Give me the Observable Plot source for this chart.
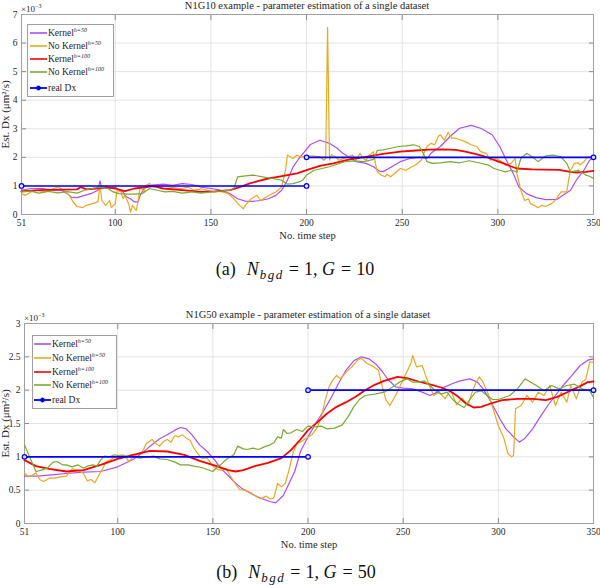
<!DOCTYPE html>
<html>
<head>
<meta charset="utf-8">
<script src="https://cdn.jsdelivr.net/npm/d3@7"></script>
<script src="https://cdn.jsdelivr.net/npm/@observablehq/plot@0.6"></script>
<style>
  html, body { margin: 0; padding: 0; background: #fff; }
  #wrap { position: relative; width: 600px; height: 585px; background: #fff; font-family: 'Liberation Serif', 'Times New Roman', serif; color: #262626; overflow: hidden; }
  .title { font-size: 10.5px; white-space: nowrap; transform: translateX(-50%); line-height: 12px; }
  .exp { font-size: 9px; line-height: 10px; }
  .exp sup { font-size: 6px; }
  .legend { border: 1px solid #a0a0a0; background: #fff; box-sizing: border-box; }
  .row { position: absolute; left: 0; height: 12px; font-size: 9.5px; line-height: 12px; white-space: nowrap; }
  .row svg { position: absolute; top: 0; }
  .row span { position: absolute; top: 0; }
  .row sup { font-size: 6px; font-style: italic; vertical-align: 4px; line-height: 0; }
  .caption { white-space: nowrap; transform: translateX(-50%); font-size: 18px; line-height: 22px; color: #111; }
  .caption i { margin-right: 1px; }
  .caption sub { font-size: 13px; font-style: italic; vertical-align: -4px; line-height: 0; letter-spacing: 1.5px; }
  .caption .eq { margin: 0 5px; }
  .caption .lab { margin-right: 11px; }
</style>
</head>
<body>
<div id="wrap"></div>
<script>
// ---------- data (values in units of 1e-3 µm²/s) ----------
const xTicks = [51, 100, 150, 200, 250, 300, 350];
const yTicksTop = [0, 1, 2, 3, 4, 5, 6, 7];
const yTicksBottom = [0, 0.5, 1, 1.5, 2, 2.5, 3];

const seriesNames = ["Kernel h=50", "No Kernel h=50", "Kernel h=100", "No Kernel h=100", "real Dx"];
const seriesColors = ["#b04cf5", "#eca81e", "#ff0000", "#77ac30", "#0000ff"];

// Panel (a): N1G10
const topKernel50 = [[51,0.85],[56,0.91],[62,0.91],[68,0.85],[72,0.84],[75,0.73],[77,0.61],[80,0.59],[84,0.67],[88,0.75],[91,0.85],[92,1.18],[93,0.91],[96,0.91],[100,0.96],[102,0.85],[104,0.79],[106,0.61],[108,0.55],[110,0.44],[112,0.44],[113,0.67],[115,0.91],[118,1.02],[125,1.06],[130,1.02],[135,1.08],[140,1.05],[145,0.96],[150,0.91],[155,0.85],[160,0.73],[164,0.55],[168,0.47],[172,0.46],[176,0.49],[180,0.55],[184,0.67],[187,0.85],[190,1.2],[193,1.67],[196,1.96],[199,2.2],[202,2.45],[207,2.6],[212,2.49],[216,2.32],[219,2.14],[222,2.02],[226,1.85],[231,1.79],[235,1.67],[238,1.52],[240,1.5],[243,1.61],[249,1.85],[254,1.96],[259,2.0],[263,1.96],[265,2.14],[270,2.38],[275,2.73],[280,3.02],[286,3.12],[291,3.02],[297,2.79],[301,2.38],[304,1.96],[308,1.44],[311,0.96],[315,0.73],[320,0.59],[325,0.52],[331,0.53],[334,0.67],[338,0.85],[341,1.2],[345,1.55],[348,1.9],[350,2.02]];
const topNoKernel50 = [[51,0.73],[53,0.67],[56,0.79],[59,0.85],[63,0.79],[66,0.85],[70,0.97],[73,0.85],[76,0.67],[78,0.44],[80,0.28],[83,0.24],[85,0.32],[88,0.38],[91,0.44],[92,1.05],[93,0.49],[95,0.32],[97,0.49],[98,0.24],[100,0.38],[101,0.85],[103,0.79],[104,0.55],[105,0.67],[107,0.38],[108,0.08],[109,0.32],[111,0.14],[112,0.49],[113,0.96],[115,0.79],[116,1.02],[118,1.08],[120,0.96],[123,1.02],[126,1.0],[128,0.96],[131,0.94],[134,0.9],[138,0.96],[141,0.85],[145,0.9],[148,0.85],[152,0.79],[155,0.81],[159,0.73],[162,0.55],[165,0.32],[167,0.2],[168,0.32],[171,0.55],[174,0.67],[176,0.49],[179,0.61],[182,0.73],[184,0.79],[187,0.96],[189,1.55],[190,2.08],[193,1.96],[195,2.08],[197,2.0],[200,2.05],[203,2.05],[207,2.02],[209,1.9],[210,1.95],[211,6.55],[212,1.9],[213,2.1],[215,2.02],[217,1.9],[221,2.0],[224,2.08],[226,1.93],[228,2.14],[229,2.02],[231,1.9],[233,2.08],[235,2.2],[236,1.79],[237,1.49],[239,1.38],[241,1.32],[242,1.41],[244,1.32],[247,1.49],[249,1.61],[252,1.55],[255,1.67],[257,1.73],[260,1.9],[262,2.26],[263,2.38],[265,2.49],[267,2.44],[269,2.75],[270,2.79],[272,2.6],[274,2.87],[276,2.67],[278,2.67],[281,2.6],[283,2.55],[286,2.44],[289,2.38],[291,2.2],[294,2.14],[296,1.9],[299,1.96],[302,1.85],[304,1.73],[307,1.79],[309,1.96],[310,1.44],[312,0.85],[314,0.49],[316,0.55],[317,0.38],[319,0.32],[321,0.24],[323,0.32],[325,0.28],[328,0.38],[330,0.49],[333,0.79],[336,0.79],[337,1.2],[338,1.55],[340,1.79],[342,1.81],[343,1.73],[345,1.85],[347,2.02],[350,1.96]];
const topKernel100 = [[51,0.81],[60,0.85],[70,0.87],[80,0.88],[82,0.96],[85,0.88],[90,0.91],[95,0.96],[100,0.91],[105,0.82],[110,0.91],[116,0.96],[120,0.99],[125,0.91],[135,0.85],[145,0.79],[152,0.81],[160,0.85],[165,0.96],[170,1.08],[175,1.18],[180,1.26],[185,1.32],[190,1.38],[195,1.44],[200,1.55],[207,1.7],[214,1.79],[222,1.92],[231,2.02],[240,2.12],[249,2.2],[257,2.24],[264,2.27],[271,2.28],[278,2.26],[283,2.2],[287,2.14],[292,2.05],[296,1.96],[300,1.86],[303,1.79],[307,1.68],[310,1.61],[318,1.58],[325,1.57],[332,1.56],[338,1.49],[341,1.47],[346,1.49],[350,1.53]];
const topNoKernel100 = [[51,0.79],[56,0.82],[60,0.75],[65,0.81],[70,0.76],[75,0.8],[80,0.75],[84,0.85],[88,0.91],[92,0.96],[96,0.91],[99,0.79],[102,0.73],[106,0.71],[110,0.71],[114,0.73],[118,0.91],[122,0.85],[126,0.79],[130,0.81],[135,0.75],[140,0.79],[145,0.75],[150,0.79],[155,0.82],[160,0.85],[162,0.91],[164,1.32],[167,1.34],[172,1.38],[177,1.32],[182,1.26],[187,1.2],[190,1.06],[193,1.08],[196,1.14],[198,1.2],[200,1.38],[204,1.55],[208,1.61],[212,1.67],[216,1.76],[220,1.85],[225,1.88],[230,1.85],[235,1.93],[237,2.24],[240,2.26],[244,2.32],[248,2.38],[252,2.4],[256,2.44],[259,2.38],[261,2.14],[263,1.85],[266,1.79],[270,1.81],[275,1.85],[280,1.81],[285,1.88],[290,1.81],[295,1.73],[298,1.61],[301,1.55],[304,1.49],[307,1.55],[310,1.49],[312,1.96],[315,2.14],[318,2.02],[321,1.85],[325,2.05],[329,2.08],[333,2.02],[336,1.79],[338,1.49],[342,1.55],[346,1.38],[348,1.34],[350,1.26]];
const topRealDx1 = [[51,1],[200,1]];
const topRealDx2 = [[200,2],[350,2]];

// Panel (b): N1G50
const botKernel50 = [[51,0.71],[58,0.71],[65,0.73],[73,0.75],[82,0.77],[91,0.78],[100,0.85],[108,0.96],[113,1.06],[117,1.16],[122,1.27],[126,1.33],[130,1.4],[133,1.44],[136,1.42],[139,1.33],[143,1.18],[147,1.08],[151,0.95],[154,0.83],[158,0.72],[161,0.63],[165,0.53],[170,0.45],[175,0.38],[180,0.33],[183,0.31],[187,0.42],[190,0.6],[193,0.78],[196,1.08],[200,1.3],[204,1.5],[208,1.68],[212,1.88],[216,2.1],[220,2.3],[224,2.44],[228,2.5],[232,2.47],[236,2.38],[239,2.28],[242,2.16],[246,2.05],[250,2.03],[255,2.02],[260,1.97],[264,1.92],[268,1.97],[272,2.05],[276,2.1],[280,2.14],[285,2.17],[289,2.12],[292,2.02],[295,1.88],[298,1.72],[301,1.56],[304,1.42],[308,1.3],[311,1.22],[314,1.28],[318,1.42],[322,1.6],[326,1.77],[330,1.92],[334,2.07],[338,2.2],[343,2.37],[347,2.45],[350,2.47]];
const botNoKernel50 = [[51,0.76],[53,0.7],[55,0.72],[57,0.76],[59,0.66],[61,0.63],[64,0.68],[67,0.68],[70,0.7],[73,0.71],[76,0.82],[79,0.8],[82,0.75],[84,0.64],[86,0.66],[88,0.61],[90,0.72],[92,0.82],[94,0.93],[97,0.97],[100,1.02],[103,1.03],[106,0.93],[108,1.0],[110,1.03],[113,1.08],[115,1.2],[118,1.26],[120,1.2],[122,1.16],[124,1.23],[126,1.26],[128,1.22],[130,1.32],[132,1.3],[134,1.33],[136,1.28],[138,1.25],[140,1.13],[142,1.05],[144,0.98],[147,0.98],[150,0.86],[152,0.82],[154,0.8],[157,0.82],[159,0.72],[161,0.63],[164,0.51],[167,0.5],[170,0.46],[173,0.4],[175,0.37],[178,0.41],[180,0.37],[182,0.38],[184,0.6],[186,0.55],[188,0.6],[190,0.8],[192,1.05],[194,1.2],[196,1.22],[199,1.28],[202,1.33],[205,1.45],[207,1.6],[209,1.85],[211,2.05],[213,2.15],[215,2.22],[217,2.17],[220,2.27],[223,2.35],[226,2.45],[228,2.48],[231,2.4],[234,2.36],[237,2.3],[239,2.05],[241,1.85],[243,1.77],[246,1.92],[249,2.1],[252,2.28],[254,2.4],[255,2.52],[257,2.35],[260,2.37],[262,2.2],[264,2.05],[266,1.92],[269,1.97],[272,1.87],[275,2.0],[278,1.78],[281,1.88],[284,1.77],[286,1.95],[288,2.1],[290,2.2],[292,2.12],[295,1.92],[298,1.65],[300,1.47],[303,1.27],[305,1.05],[307,1.0],[308,1.02],[309,1.72],[312,1.77],[315,1.92],[318,1.82],[321,1.97],[324,1.92],[327,2.07],[330,1.77],[333,1.97],[336,1.82],[338,2.07],[341,1.87],[344,2.12],[346,2.17],[348,2.42],[350,2.42]];
const botKernel100 = [[51,0.95],[57,0.86],[64,0.82],[73,0.78],[82,0.8],[91,0.88],[100,0.97],[108,1.03],[117,1.09],[126,1.08],[135,1.03],[143,0.94],[152,0.86],[158,0.8],[162,0.78],[166,0.8],[172,0.86],[179,0.91],[186,0.98],[191,1.1],[196,1.26],[200,1.4],[205,1.52],[210,1.65],[215,1.75],[220,1.82],[225,1.9],[230,2.0],[235,2.08],[240,2.14],[247,2.2],[252,2.18],[258,2.13],[265,2.08],[270,2.04],[275,1.98],[279,1.9],[283,1.8],[287,1.74],[291,1.75],[296,1.8],[302,1.85],[310,1.87],[318,1.87],[325,1.85],[331,1.9],[337,1.98],[343,2.06],[347,2.12],[350,2.13]];
const botNoKernel100 = [[51,1.18],[54,0.98],[57,0.78],[60,0.8],[63,0.83],[66,0.92],[68,0.93],[71,0.88],[73,0.88],[76,0.85],[79,0.88],[82,0.83],[84,0.86],[87,0.88],[89,0.86],[91,0.95],[93,1.01],[96,1.0],[98,1.03],[101,1.02],[105,1.01],[109,0.99],[112,0.98],[115,1.0],[119,1.01],[122,0.97],[126,0.96],[130,0.92],[133,0.88],[137,0.88],[140,0.86],[144,0.84],[147,0.81],[150,0.78],[152,0.84],[154,0.88],[157,0.96],[161,1.03],[163,1.16],[166,1.12],[168,1.11],[171,1.13],[174,1.11],[177,1.15],[180,1.18],[182,1.21],[184,1.3],[186,1.28],[187,1.41],[189,1.35],[191,1.36],[194,1.41],[197,1.38],[200,1.46],[204,1.45],[207,1.46],[210,1.42],[214,1.43],[218,1.48],[221,1.6],[224,1.75],[227,1.86],[230,1.92],[235,1.94],[240,1.97],[244,2.04],[248,2.12],[252,2.17],[255,2.12],[258,2.12],[261,2.14],[264,2.07],[267,1.99],[270,1.94],[273,1.97],[276,1.86],[279,1.79],[282,1.74],[285,1.86],[288,1.97],[291,1.99],[294,1.92],[297,1.86],[300,1.86],[303,1.89],[306,1.92],[310,2.02],[314,2.17],[317,2.12],[320,2.07],[324,1.99],[328,2.07],[332,2.02],[336,2.07],[340,2.09],[344,2.02],[348,1.99],[350,1.89]];
const botRealDx1 = [[51,1],[200,1]];
const botRealDx2 = [[200,2],[350,2]];

// ---------- drawing ----------
const wrap = document.getElementById("wrap");
const FONT = "'Liberation Serif', 'Times New Roman', serif";

function panel({series, realDx, yDomain, yTicks, marginLeft}) {
  const X = d => d[0], Y = d => d[1];
  const axisCommon = {stroke: "#8c8c8c", fill: "#262626", fontSize: 9.5, fontFamily: FONT};
  const marks = [
    Plot.gridX(xTicks, {stroke: "#e3e3e3", strokeOpacity: 1}),
    Plot.gridY(yTicks, {stroke: "#e3e3e3", strokeOpacity: 1}),
    Plot.axisX(xTicks, {...axisCommon, anchor: "bottom", tickSize: -5, tickPadding: 10, tickFormat: d => String(d), label: null}),
    Plot.axisX(xTicks, {...axisCommon, fontSize: 10.5, anchor: "bottom", tickSize: 0, tickFormat: () => "",
      label: "No. time step", labelAnchor: "center", labelOffset: 24, labelArrow: "none"}),
    Plot.axisX(xTicks, {...axisCommon, anchor: "top", tickSize: -5, tickFormat: () => "", label: null}),
    Plot.axisY(yTicks, {...axisCommon, anchor: "left", tickSize: -5, tickPadding: 9, tickFormat: d => String(d), label: null}),
    Plot.axisY(yTicks, {...axisCommon, fontSize: 11, anchor: "left", tickSize: 0, tickFormat: () => "",
      label: "Est. Dx (μm²/s)", labelAnchor: "center", labelOffset: marginLeft - 1, labelArrow: "none"}),
    Plot.axisY(yTicks, {...axisCommon, anchor: "right", tickSize: -5, tickFormat: () => "", label: null}),
    Plot.frame({stroke: "#a0a0a0"})
  ];
  const widths = [1.2, 1.2, 1.8, 1.2];
  series.forEach((s, i) => marks.push(Plot.line(s, {x: X, y: Y, stroke: seriesColors[i], strokeWidth: widths[i]})));
  realDx.forEach(seg => {
    marks.push(Plot.line(seg, {x: X, y: Y, stroke: seriesColors[4], strokeWidth: 1.6}));
    marks.push(Plot.dot(seg, {x: X, y: Y, r: 2.3, stroke: seriesColors[4], strokeWidth: 1.2, fill: "#dfe4ff"}));
  });
  return Plot.plot({
    width: 600, height: 242,
    marginLeft, marginRight: 7, marginTop: 14, marginBottom: 28,
    style: {fontFamily: FONT, fontSize: "10.5px", background: "transparent", color: "#262626"},
    x: {domain: [51, 350]},
    y: {domain: yDomain},
    marks
  });
}

function place(el, left, top) {
  el.style.position = "absolute"; el.style.left = left + "px"; el.style.top = top + "px";
  wrap.appendChild(el); return el;
}

function html(str) {
  const d = document.createElement("div"); d.innerHTML = str; return d.firstElementChild;
}

function legend(left, top, w, h, rowTops, lineX0, lineX1, textX) {
  const box = html(`<div class="legend" style="width:${w}px;height:${h}px"></div>`);
  const labels = ["Kernel<sup>h=50</sup>", "No Kernel<sup>h=50</sup>", "Kernel<sup>h=100</sup>", "No Kernel<sup>h=100</sup>", "real Dx"];
  labels.forEach((lab, i) => {
    const c = seriesColors[i];
    const marker = i === 4 ? `<circle cx="${(lineX0 + lineX1) / 2}" cy="6" r="2" fill="${c}" stroke="${c}"/>` : "";
    const row = html(`<div class="row" style="top:${rowTops[i]}px;width:${w}px">
      <svg width="${w}" height="12"><line x1="${lineX0}" x2="${lineX1}" y1="6" y2="6" stroke="${c}" stroke-width="${i === 4 ? 1.8 : 1.6}"/>${marker}</svg>
      <span style="left:${textX}px">${lab}</span></div>`);
    box.appendChild(row);
  });
  place(box, left, top);
}

function caption(tag, g) {
  return html(`<div class="caption"><span class="lab">(${tag})</span><i>N</i><sub>bgd</sub><span class="eq">=</span>1, <i>G</i><span class="eq">=</span>${g}</div>`);
}

// Panel (a)
const svgA = panel({series: [topKernel50, topNoKernel50, topKernel100, topNoKernel100], realDx: [topRealDx1, topRealDx2], yDomain: [0, 7], yTicks: yTicksTop, marginLeft: 21});
place(svgA, 0, 0);
place(html(`<div class="title">N1G10 example - parameter estimation of a single dataset</div>`), 307, 0);
place(html(`<div class="exp">×10<sup>−3</sup></div>`), 21, 1);
legend(27, 24, 87, 73, [2, 15, 27.5, 41, 57], 2, 19, 20);
place(caption("a", 10), 295, 258);

// Panel (b)
const svgB = panel({series: [botKernel50, botNoKernel50, botKernel100, botNoKernel100], realDx: [botRealDx1, botRealDx2], yDomain: [0, 3], yTicks: yTicksBottom, marginLeft: 24});
place(svgB, 0, 309);
place(html(`<div class="title">N1G50 example - parameter estimation of a single dataset</div>`), 308, 309);
place(html(`<div class="exp">×10<sup>−3</sup></div>`), 24, 310);
legend(32, 335, 85, 74, [2, 15.5, 29.5, 43, 58], 1, 18, 19);
place(caption("b", 50), 296, 561);
</script>
</body>
</html>
